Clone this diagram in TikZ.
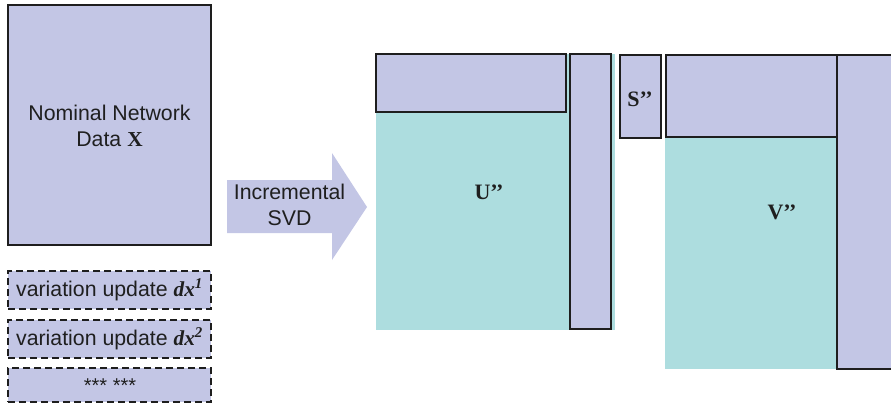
\documentclass[tikz,border=0pt]{standalone}
\usepackage{fontspec}
\setmainfont{Liberation Sans}
\newfontfamily\tms{Liberation Serif}
\definecolor{pur}{RGB}{195,198,229}
\definecolor{tea}{RGB}{173,221,223}
\definecolor{edgec}{RGB}{30,30,30}
\begin{document}
\begin{tikzpicture}[x=1pt,y=-1pt,
  box/.style={draw=edgec, line width=1.1pt, fill=pur, inner sep=0pt, anchor=center},
  dbox/.style={box, line width=1.1pt, dash pattern=on 7pt off 4pt},
  teal/.style={fill=tea, draw=none, inner sep=0pt, anchor=center},
  lab/.style={font=\fontsize{21.3}{26.5}\selectfont, text=black!88, align=center},
  mlab/.style={font=\tms\bfseries\fontsize{22}{24}\selectfont, text=black!88},
  arrowfill/.style={fill=pur, draw=none}]
\useasboundingbox (0,0) rectangle (891,404);
% left column
\node[box, minimum width=203pt, minimum height=240pt] (X) at (109.5,125) {};
\node[lab] (Xt) at (109.5,126) {Nominal Network\\Data {\tms\bfseries X}};
\node[dbox, minimum width=203pt, minimum height=38pt] (d1) at (109.5,290) {};
\node[lab] (d1t) at (d1.center) {variation update {\tms\bfseries\itshape dx\textsuperscript{1}}};
\node[dbox, minimum width=203pt, minimum height=38pt] (d2) at (109.5,339) {};
\node[lab] (d2t) at (d2.center) {variation update {\tms\bfseries\itshape dx\textsuperscript{2}}};
\node[dbox, minimum width=203pt, minimum height=34pt] (d3) at (109.5,385) {};
\node[lab, font=\fontsize{20}{24}\selectfont] (d3t) at (110,386) {*** ***};
% arrow
\fill[arrowfill] (227,180) -- (332,180) -- (332,153) -- (367,207) -- (332,260) -- (332,233) -- (227,233) -- cycle;
\node[lab] (svd) at (289.5,205) {Incremental\\SVD};
% U''
\node[teal, minimum width=239pt, minimum height=276pt] (Ut) at (495.5,192) {};
\node[box, minimum width=190pt, minimum height=58pt] (Utop) at (471,83) {};
\node[box, minimum width=41pt, minimum height=275pt] (Ucol) at (590.5,191.5) {};
\node[mlab] (Ul) at (489,192) {U’’};
% S''
\node[box, minimum width=41pt, minimum height=83pt] (S) at (640.5,96.5) {};
\node[mlab] (Sl) at (640,99) {S’’};
% V''
\node[teal, minimum width=172pt, minimum height=314pt] (Vt) at (751,212) {};
\node[box, minimum width=171pt, minimum height=82pt] (Vtop) at (751.5,96) {};
\node[box, minimum width=58pt, minimum height=314pt] (Vcol) at (866,212) {};
\node[mlab] (Vl) at (782,212) {V’’};
\end{tikzpicture}
\end{document}
